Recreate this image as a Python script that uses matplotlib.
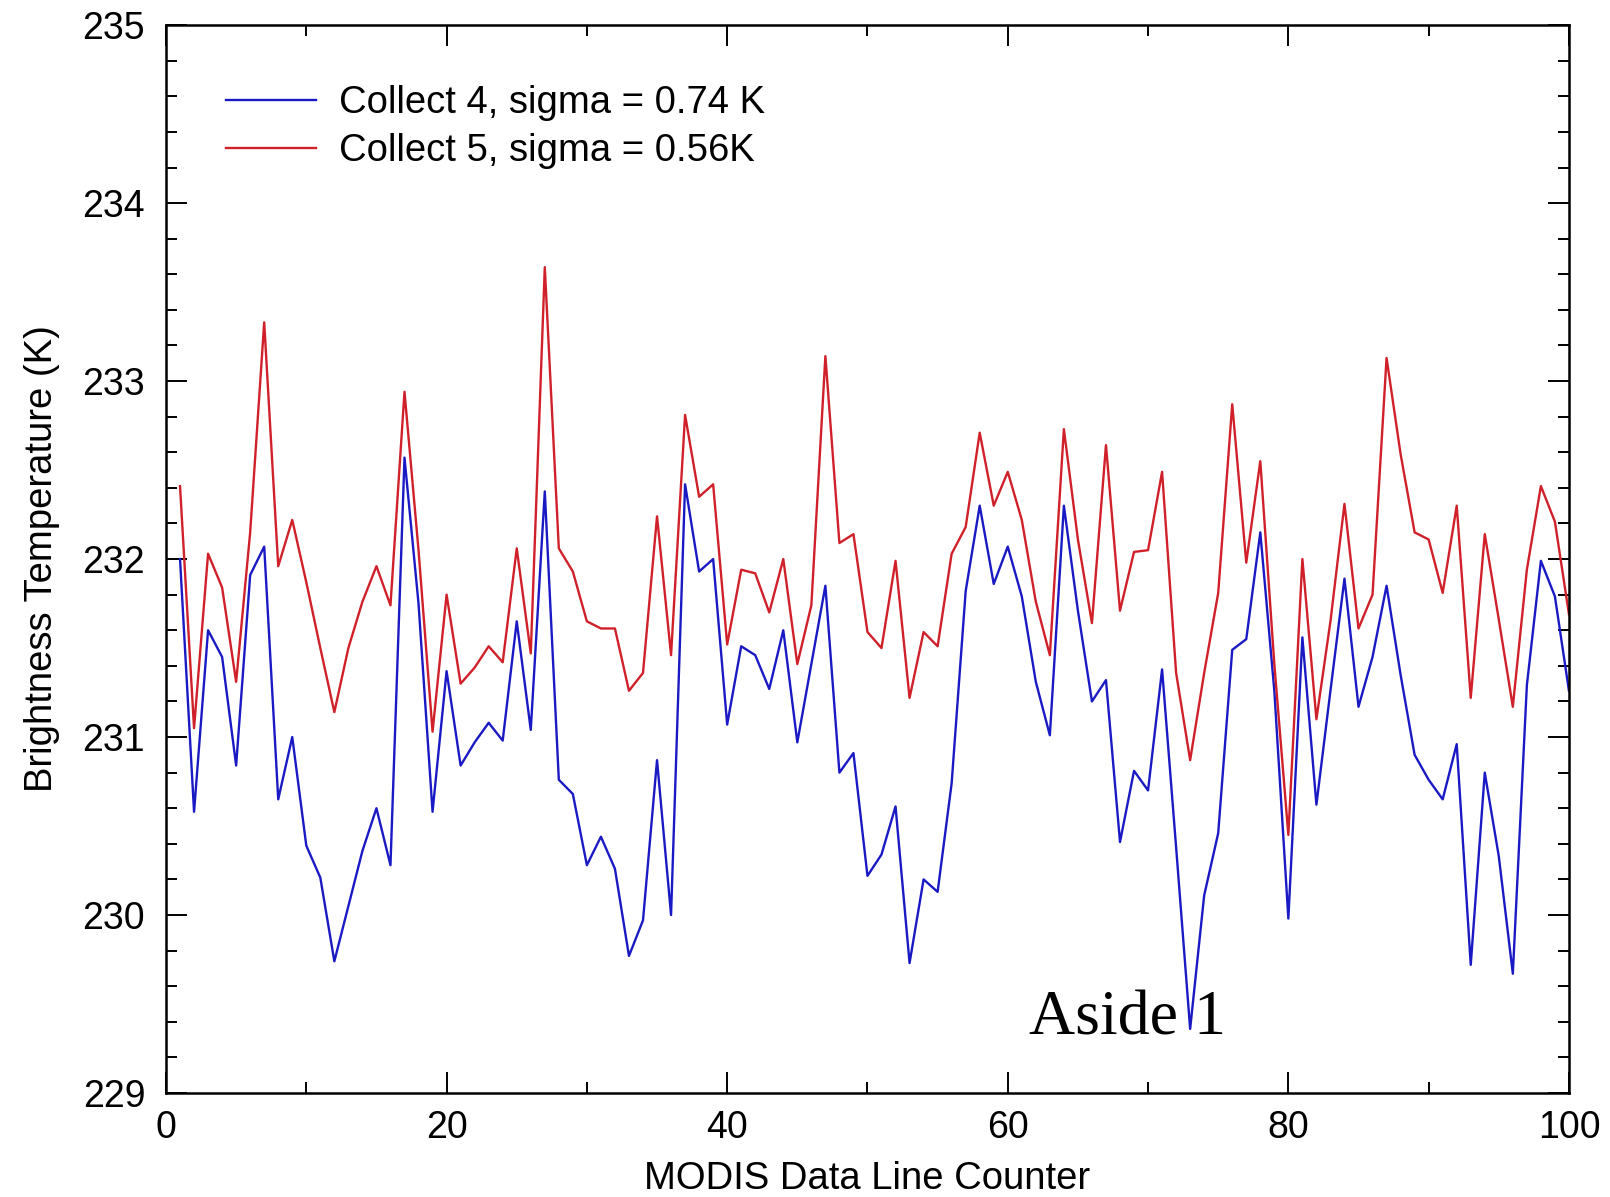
import matplotlib
matplotlib.use('Agg')
from matplotlib import pyplot as plt
from matplotlib.ticker import MultipleLocator

plt.rcParams['font.family'] = ['Liberation Sans', 'DejaVu Sans']

# line counter
lines = list(range(1, 101))

# Collect 4 brightness temperatures (K)
collect4 = [232.00, 230.58, 231.60, 231.45, 230.84, 231.91, 232.07, 230.65, 231.00, 230.39,
            230.21, 229.74, 230.05, 230.36, 230.60, 230.28, 232.57, 231.75, 230.58, 231.37,
            230.84, 230.97, 231.08, 230.98, 231.65, 231.04, 232.38, 230.76, 230.68, 230.28,
            230.44, 230.26, 229.77, 229.97, 230.87, 230.00, 232.42, 231.93, 232.00, 231.07,
            231.51, 231.46, 231.27, 231.60, 230.97, 231.41, 231.85, 230.80, 230.91, 230.22,
            230.34, 230.61, 229.73, 230.20, 230.13, 230.74, 231.82, 232.30, 231.86, 232.07,
            231.79, 231.31, 231.01, 232.30, 231.71, 231.20, 231.32, 230.41, 230.81, 230.70,
            231.38, 230.38, 229.36, 230.11, 230.46, 231.49, 231.55, 232.15, 231.26, 229.98,
            231.56, 230.62, 231.26, 231.89, 231.17, 231.45, 231.85, 231.35, 230.90, 230.76,
            230.65, 230.96, 229.72, 230.80, 230.33, 229.67, 231.29, 231.99, 231.79, 231.26]

# Collect 5 brightness temperatures (K)
collect5 = [232.41, 231.05, 232.03, 231.84, 231.31, 232.15, 233.33, 231.96, 232.22, 231.87,
            231.50, 231.14, 231.50, 231.76, 231.96, 231.74, 232.94, 232.05, 231.03, 231.80,
            231.30, 231.39, 231.51, 231.42, 232.06, 231.47, 233.64, 232.06, 231.93, 231.65,
            231.61, 231.61, 231.26, 231.36, 232.24, 231.46, 232.81, 232.35, 232.42, 231.52,
            231.94, 231.92, 231.70, 232.00, 231.41, 231.74, 233.14, 232.09, 232.14, 231.59,
            231.50, 231.99, 231.22, 231.59, 231.51, 232.03, 232.18, 232.71, 232.30, 232.49,
            232.22, 231.76, 231.46, 232.73, 232.11, 231.64, 232.64, 231.71, 232.04, 232.05,
            232.49, 231.36, 230.87, 231.36, 231.81, 232.87, 231.98, 232.55, 231.41, 230.45,
            232.00, 231.10, 231.65, 232.31, 231.61, 231.80, 233.13, 232.59, 232.15, 232.11,
            231.81, 232.30, 231.22, 232.14, 231.66, 231.17, 231.94, 232.41, 232.21, 231.69]

labels = ['Collect 4, sigma = 0.74 K', 'Collect 5, sigma = 0.56K']

fig = plt.figure(figsize=(16.1, 11.97), dpi=100)
ax = fig.add_axes([0.1031, 0.0869, 0.8714, 0.8921])

ax.plot(lines, collect4, color='#1a1ac4', lw=1.7, label=labels[0])
ax.plot(lines, collect5, color='#d0202a', lw=1.7, label=labels[1])

ax.set_xlim(0, 100)
ax.set_ylim(229, 235)
ax.xaxis.set_major_locator(MultipleLocator(20))
ax.xaxis.set_minor_locator(MultipleLocator(10))
ax.yaxis.set_major_locator(MultipleLocator(1))
ax.yaxis.set_minor_locator(MultipleLocator(0.2))
ax.tick_params(which='both', direction='in', top=True, right=True, width=1.4)
ax.tick_params(which='major', length=15, labelsize=27, pad=15)
ax.tick_params(axis='x', which='major', pad=12)
ax.tick_params(which='minor', length=8)
for s in ax.spines.values():
    s.set_linewidth(1.8)

ax.set_xlabel('MODIS Data Line Counter', fontsize=27.5, labelpad=11)
ax.set_ylabel('Brightness Temperature (K)', fontsize=27.5, labelpad=16)

ax.legend(loc='upper left', bbox_to_anchor=(0.043, 0.9437), frameon=False, fontsize=27.5,
          borderaxespad=0, borderpad=0, handlelength=2.36, handletextpad=0.59,
          labelspacing=0.31)

ax.text(61.5, 229.33, 'Aside 1', fontsize=46, family=['Liberation Serif', 'DejaVu Serif'],
        color='black')

fig.savefig('out.png', dpi=100)
